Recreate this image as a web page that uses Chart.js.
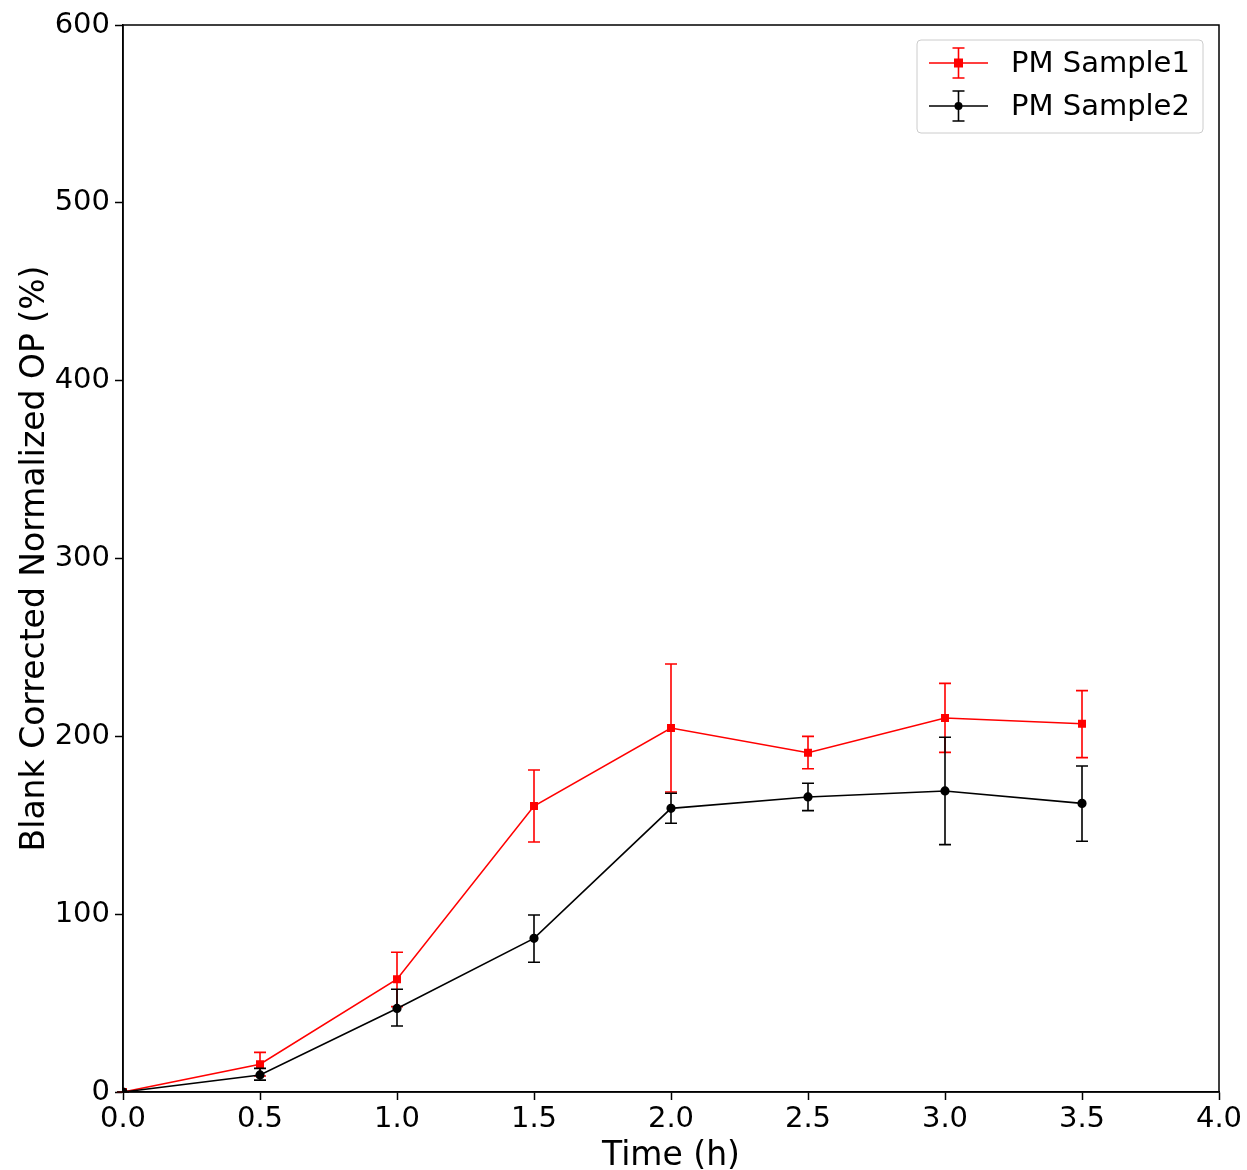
<!DOCTYPE html>
<html>
<head>
<meta charset="utf-8">
<script src="https://cdn.jsdelivr.net/npm/chart.js@4"></script>
<style>
  html, body { margin: 0; padding: 0; background: #fff; }
  #wrap { width: 1247px; height: 1170px; }
</style>
</head>
<body>
<div id="wrap"><canvas id="myChart" width="1247" height="1170"></canvas></div>
<script>
const times = [0, 0.5, 1.0, 1.5, 2.0, 2.5, 3.0, 3.5];

const sample1 = [0, 15.6, 63.4, 160.8, 204.7, 190.8, 210.3, 207.1];
const sample1Hi = [0, 22.3, 78.6, 181.1, 240.7, 200.0, 229.8, 225.7];
const sample1Lo = [0, 9.0, 48.0, 140.6, 168.7, 181.8, 191.0, 188.0];

const sample2 = [0, 9.6, 47.0, 86.4, 159.5, 165.9, 169.3, 162.3];
const sample2Hi = [0, 13.3, 57.8, 99.5, 168.0, 173.6, 199.5, 183.3];
const sample2Lo = [0, 6.7, 37.1, 73.0, 151.1, 158.2, 139.1, 141.0];

const xTicks = [0, 0.5, 1.0, 1.5, 2.0, 2.5, 3.0, 3.5, 4.0];
const yTicks = [0, 100, 200, 300, 400, 500, 600];

const seriesNames = ["PM Sample1", "PM Sample2"];
const seriesColors = ["#ff0000", "#000000"];

const FONT = "'DejaVu Sans', sans-serif";

function pts(ys) {
  return times.map((t, i) => ({ x: t, y: ys[i] }));
}

const errs = [
  { hi: sample1Hi, lo: sample1Lo },
  { hi: sample2Hi, lo: sample2Lo }
];

// vertical error bars with caps, drawn right after each dataset
const errorBars = {
  id: "errorBars",
  afterDatasetDraw(chart, args) {
    const i = args.index;
    const e = errs[i];
    const ctx = chart.ctx;
    const xs = chart.scales.x, ys = chart.scales.y;
    ctx.save();
    ctx.strokeStyle = seriesColors[i];
    ctx.lineWidth = 1.6;
    times.forEach((t, k) => {
      const px = xs.getPixelForValue(t);
      const top = ys.getPixelForValue(e.hi[k]);
      const bot = ys.getPixelForValue(e.lo[k]);
      ctx.beginPath();
      ctx.moveTo(px, top); ctx.lineTo(px, bot);
      ctx.moveTo(px - 6, top); ctx.lineTo(px + 6, top);
      ctx.moveTo(px - 6, bot); ctx.lineTo(px + 6, bot);
      ctx.stroke();
    });
    ctx.restore();
  }
};

// full frame + matplotlib style legend
const frameLegend = {
  id: "frameLegend",
  afterDraw(chart) {
    const ctx = chart.ctx;
    const a = chart.chartArea;
    ctx.save();
    ctx.strokeStyle = "#000";
    ctx.lineWidth = 1.5;
    ctx.strokeRect(a.left, a.top, a.right - a.left, a.bottom - a.top);

    // legend box
    const bx = a.right - 302, by = a.top + 15, bw = 286, bh = 93;
    ctx.fillStyle = "rgba(255,255,255,0.8)";
    ctx.strokeStyle = "#cccccc";
    ctx.lineWidth = 1;
    ctx.beginPath();
    ctx.roundRect(bx, by, bw, bh, 4);
    ctx.fill();
    ctx.stroke();

    ctx.font = "29px " + FONT;
    ctx.textBaseline = "middle";
    seriesNames.forEach((name, i) => {
      const cy = by + 23 + i * 43;
      const x0 = bx + 12, x1 = bx + 71, cx = (x0 + x1) / 2;
      ctx.strokeStyle = seriesColors[i];
      ctx.fillStyle = seriesColors[i];
      ctx.lineWidth = 1.6;
      ctx.beginPath();
      ctx.moveTo(x0, cy); ctx.lineTo(x1, cy);
      ctx.moveTo(cx, cy - 15); ctx.lineTo(cx, cy + 15);
      ctx.moveTo(cx - 6, cy - 15); ctx.lineTo(cx + 6, cy - 15);
      ctx.moveTo(cx - 6, cy + 15); ctx.lineTo(cx + 6, cy + 15);
      ctx.stroke();
      if (i === 0) {
        ctx.fillRect(cx - 4.5, cy - 4.5, 9, 9);
      } else {
        ctx.beginPath();
        ctx.arc(cx, cy, 4, 0, Math.PI * 2);
        ctx.fill();
      }
      ctx.fillStyle = "#000";
      ctx.fillText(name, bx + 94, cy + 1);
    });
    ctx.restore();
  }
};

const ctx = document.getElementById("myChart");

new Chart(ctx, {
  type: "line",
  data: {
    datasets: [
      {
        label: seriesNames[0],
        data: pts(sample1),
        borderColor: seriesColors[0],
        backgroundColor: seriesColors[0],
        borderWidth: 1.6,
        pointStyle: "rect",
        pointRadius: 4.5,
        pointHoverRadius: 4.5,
        order: 2
      },
      {
        label: seriesNames[1],
        data: pts(sample2),
        borderColor: seriesColors[1],
        backgroundColor: seriesColors[1],
        borderWidth: 1.6,
        pointStyle: "circle",
        pointRadius: 3.8,
        pointHoverRadius: 3.8,
        order: 1
      }
    ]
  },
  options: {
    responsive: false,
    animation: false,
    events: [],
    layout: { padding: { top: 25, right: 28, left: 0, bottom: -6 } },
    plugins: {
      legend: { display: false },
      tooltip: { enabled: false }
    },
    scales: {
      x: {
        type: "linear",
        min: 0, max: 4,
        afterFit: s => { s.height = 84; },
        afterBuildTicks: s => { s.ticks = xTicks.map(v => ({ value: v })); },
        grid: { drawOnChartArea: false, drawTicks: true, tickLength: 8, tickColor: "#000", tickWidth: 1.5 },
        border: { display: true, color: "#000", width: 1.5 },
        ticks: {
          color: "#000", padding: 2, maxRotation: 0,
          font: { family: FONT, size: 29 },
          callback: v => v.toFixed(1)
        },
        title: {
          display: true, text: "Time (h)", color: "#000",
          font: { family: FONT, size: 33 }, padding: { top: 0, bottom: 0 }
        }
      },
      y: {
        min: 0, max: 600,
        afterFit: s => { s.width = 123; },
        afterBuildTicks: s => { s.ticks = yTicks.map(v => ({ value: v })); },
        grid: { drawOnChartArea: false, drawTicks: true, tickLength: 8, tickColor: "#000", tickWidth: 1.5 },
        border: { display: true, color: "#000", width: 1.5 },
        ticks: {
          color: "#000", padding: 5,
          font: { family: FONT, size: 29 }
        },
        title: {
          display: true, text: "Blank Corrected Normalized OP (%)", color: "#000",
          font: { family: FONT, size: 33 }, padding: { top: 16, bottom: 4 }
        }
      }
    }
  },
  plugins: [errorBars, frameLegend]
});
</script>
</body>
</html>
